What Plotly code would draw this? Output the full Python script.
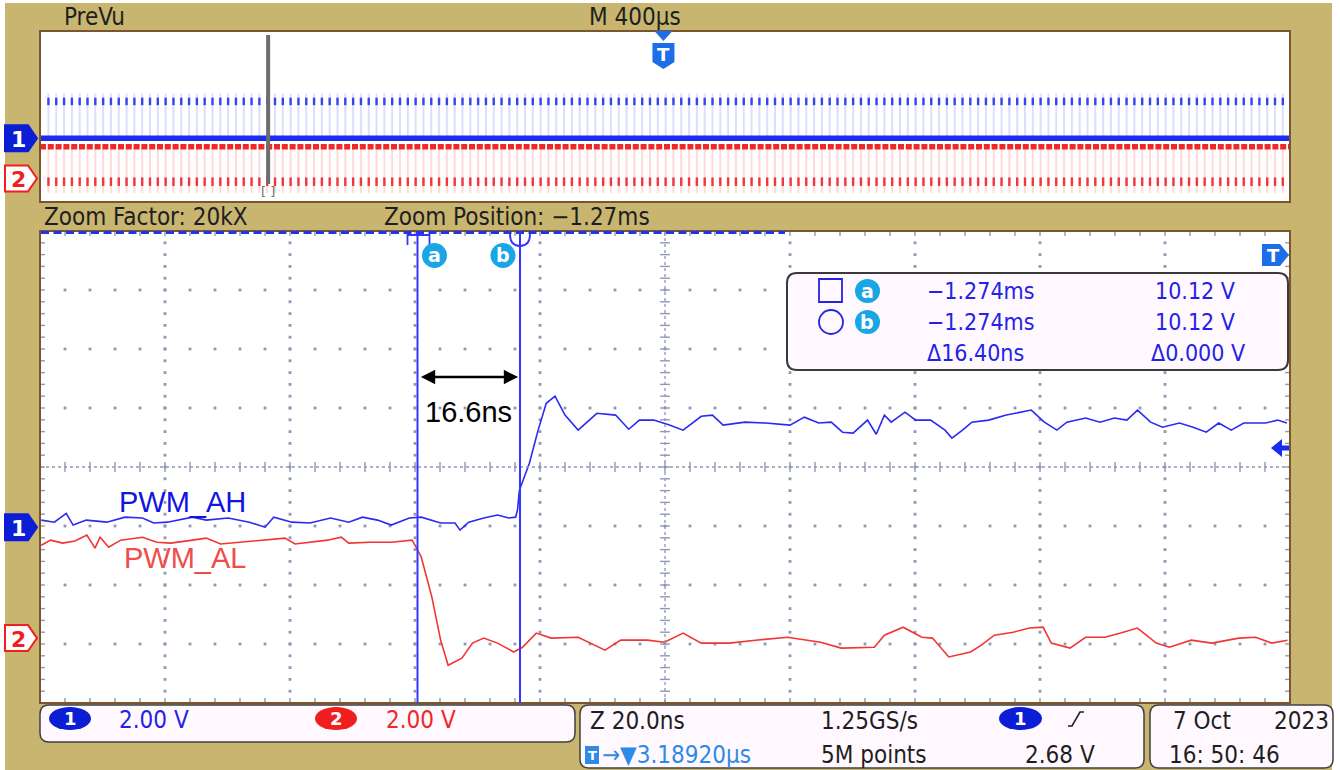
import plotly.graph_objects as go

# ------------------------------------------------------------------
# DATA
# ------------------------------------------------------------------
# Zoomed window: time in ns relative to screen centre, amplitude in volts
ch1_t_ns = [-99.8, -97.7, -95.8, -94.7, -92.6, -89.3, -86.4, -83.6, -81.8, -79.6,
            -75.6, -73.4, -69.9, -66.5, -64.0, -62.6, -59.7, -56.8, -53.5, -50.6,
            -48.4, -46.0, -43.8, -40.9, -39.0, -35.9, -33.6, -32.8, -31.4, -29.0,
            -26.8, -25.0, -23.9,
            -23.6, -23.3, -21.7, -20.3, -19.0, -17.6, -16.0, -13.9, -10.9, -7.9,
            -5.8, -4.1, -1.8, 0.7, 2.9, 5.8, 7.6, 9.3, 12.8, 16.1,
            20.0, 22.3, 24.6, 26.6, 28.4, 30.1, 32.4, 33.8, 35.1, 36.2,
            38.4, 40.1, 42.5, 44.8, 45.9, 47.6, 49.1, 51.8, 54.6, 58.6,
            60.7, 62.7, 64.3, 67.3, 69.6, 71.9, 73.9, 75.6, 77.7, 79.6,
            82.3, 84.5, 86.6, 88.6, 90.6, 92.6, 96.1, 98.0, 99.5]
ch1_v = [0.24, 0.17, 0.47, 0.07, 0.24, 0.17, 0.34, 0.31, 0.14, 0.17,
         0.34, 0.24, 0.31, 0.17, 0.00, 0.34, 0.17, 0.14, 0.31, 0.17,
         0.34, 0.24, 0.07, 0.31, 0.34, 0.14, 0.14, -0.10, 0.17, 0.31,
         0.41, 0.31, 0.34,
         0.58, 1.25, 2.17, 3.29, 4.20, 4.44, 3.80, 3.29, 3.86, 3.80,
         3.32, 3.63, 3.63, 3.46, 3.29, 3.76, 3.80, 3.46, 3.56, 3.53,
         3.46, 3.73, 3.53, 3.56, 3.22, 3.19, 3.63, 3.15, 3.80, 3.56,
         3.90, 3.63, 3.63, 3.29, 3.02, 3.29, 3.56, 3.63, 3.80, 3.97,
         3.56, 3.29, 3.56, 3.70, 3.56, 3.70, 3.63, 3.97, 3.56, 3.39,
         3.53, 3.39, 3.22, 3.53, 3.29, 3.53, 3.53, 3.63, 3.53]

ch2_t_ns = [-99.8, -98.3, -96.4, -94.4, -92.5, -91.2, -90.4, -89.0, -87.1, -83.6,
            -81.3, -79.1, -75.6, -73.4, -71.1, -67.6, -64.8, -60.8, -59.2, -56.8,
            -54.0, -51.8, -50.6, -47.3, -43.8, -40.5, -40.0,
            -39.0, -37.3, -35.9, -34.7, -32.5, -30.8, -29.0, -26.8, -24.2, -22.8,
            -20.6, -18.2, -13.9, -9.6, -7.1, -2.8, -0.1, 2.9, 5.8, 10.3,
            14.5, 19.6, 24.9, 28.2, 33.5, 35.1, 38.1, 41.1, 42.8, 45.4,
            48.9, 50.6, 52.7, 55.7, 58.3, 60.5, 61.8, 64.8, 67.3, 70.4,
            72.9, 75.6, 78.6, 80.7, 84.2, 87.5, 91.8, 94.5, 97.1, 99.6]
ch2_v = [3.15, 3.32, 3.22, 3.29, 3.49, 3.05, 3.42, 3.08, 3.32, 3.42,
         3.25, 3.22, 3.32, 3.39, 3.19, 3.25, 3.32, 3.39, 3.19, 3.25,
         3.32, 3.42, 3.22, 3.25, 3.25, 3.32, 3.15,
         2.75, 1.39, -0.07, -0.92, -0.68, -0.17, 0.00, -0.17, -0.47, -0.31,
         0.17, 0.00, 0.03, -0.41, -0.07, -0.07, -0.14, 0.17, -0.17, -0.17,
         -0.07, 0.03, -0.14, -0.34, -0.31, 0.10, 0.37, 0.03, 0.00, -0.64,
         -0.47, -0.24, 0.10, 0.20, 0.34, 0.37, -0.17, -0.34, 0.03, 0.03,
         0.17, 0.34, -0.17, -0.31, -0.07, -0.17, 0.00, 0.03, -0.17, -0.07]

ch_names = ["PWM_AH", "PWM_AL"]
ch1_offset_div = -1.02
ch2_offset_div = -2.90
volts_per_div = 2.0
ns_per_div = 20.0
us_per_div_prevu = 400.0

cursor_a_ns = -39.6
cursor_b_ns = -23.2
trigger_level_v = 2.68
dead_time_label = "16.6ns"

# PreVu (overview) window, time in microseconds
prevu_first_pulse_us = -1973.0
prevu_pulse_period_us = 25.0
prevu_ch1_base_v = 0.0
prevu_ch1_peak_v = 4.2
prevu_ch1_dense_v = [3.1, 3.8]
prevu_ch2_base_v = 2.97
prevu_ch2_trough_v = -1.35
prevu_ch2_dense_v = [0.1, -0.7]
zoom_position_us = -1270.0
prevu_trigger_us = -5.0

readout_rows = [["−1.274ms", "10.12 V"], ["−1.274ms", "10.12 V"], ["Δ16.40ns", "Δ0.000 V"]]
header_left = "PreVu"
header_mid = "M 400µs"
zoom_factor_txt = "Zoom Factor: 20kX"
zoom_pos_txt = "Zoom Position: −1.27ms"
ch_scale_txt = ["2.00 V", "2.00 V"]
status_mid = [["Z 20.0ns", "1.25GS/s"], ["→▼3.18920µs", "5M points", "2.68 V"]]
status_date = ["7 Oct", "2023", "16: 50: 46"]

# ------------------------------------------------------------------
# STYLE / LAYOUT
# ------------------------------------------------------------------
W, H = 1340, 770
KHAKI = "#C8B56F"
FRAME = "#7A5530"
GRID = "#8E97B6"
BLUE_TR = "#2A2AF2"
RED_TR = "#F23434"
TXT_BLUE = "#2323E6"
CYAN = "#1AA6E6"
TAG_BLUE = "#0B1ED6"
SCOPE = "DejaVu Sans Condensed, Liberation Sans Narrow, Roboto Condensed, DejaVu Sans, sans-serif"
LABEL = "Liberation Sans, Arial, sans-serif"
BOLD = "DejaVu Sans, sans-serif"

ML, MR, MT, MB = 40, 1290, 231, 703      # main graticule (px)
PL, PR, PT, PB = 40, 1290, 31, 202       # PreVu window (px)


def X(p):
    return p / W


def Y(p):
    return 1 - p / H


def main_py(div):
    return MT + (4 - div) * (MB - MT) / 8.0


def prev_py(div):
    return PT + (4 - div) * (PB - PT) / 8.0


def path(pts, close=True):
    s = "M " + " L ".join(f"{X(a):.5f},{Y(b):.5f}" for a, b in pts)
    return s + (" Z" if close else "")


def rrect(x0, y0, x1, y1, r):
    return (f"M {X(x0 + r)},{Y(y0)} L {X(x1 - r)},{Y(y0)} Q {X(x1)},{Y(y0)} {X(x1)},{Y(y0 + r)} "
            f"L {X(x1)},{Y(y1 - r)} Q {X(x1)},{Y(y1)} {X(x1 - r)},{Y(y1)} "
            f"L {X(x0 + r)},{Y(y1)} Q {X(x0)},{Y(y1)} {X(x0)},{Y(y1 - r)} "
            f"L {X(x0)},{Y(y0 + r)} Q {X(x0)},{Y(y0)} {X(x0 + r)},{Y(y0)} Z")


fig = go.Figure()

# ---------------- main graticule (dots / ticks) ----------------
gx, gy = [], []
for i in range(1, 10):
    if i == 5:
        continue
    for j in range(1, 40):
        gx.append(-100 + ns_per_div * i)
        gy.append(-4 + 0.2 * j)
for k in range(1, 8):
    if k == 4:
        continue
    for m in range(1, 50):
        gx.append(-100 + 4 * m)
        gy.append(-4 + k)
fig.add_trace(go.Scatter(x=gx, y=gy, mode="markers", hoverinfo="skip", showlegend=False,
                         marker=dict(symbol="square", size=2.8, color=GRID), xaxis="x", yaxis="y"))
tx_ew, ty_ew = [], []
for j in range(1, 40):
    for xx in (-100, 0, 100):
        tx_ew.append(xx)
        ty_ew.append(-4 + 0.2 * j)
fig.add_trace(go.Scatter(x=tx_ew, y=ty_ew, mode="markers", hoverinfo="skip", showlegend=False,
                         marker=dict(symbol="line-ew", size=7, line=dict(color=GRID, width=1.4)),
                         xaxis="x", yaxis="y"))
tx_ns, ty_ns = [], []
for m in range(1, 50):
    for yy in (-4, 0, 4):
        tx_ns.append(-100 + 4 * m)
        ty_ns.append(yy)
fig.add_trace(go.Scatter(x=tx_ns, y=ty_ns, mode="markers", hoverinfo="skip", showlegend=False,
                         marker=dict(symbol="line-ns", size=7, line=dict(color=GRID, width=1.4)),
                         xaxis="x", yaxis="y"))

# ---------------- main waveforms ----------------
fig.add_trace(go.Scatter(x=ch2_t_ns, y=[v / volts_per_div + ch2_offset_div for v in ch2_v],
                         mode="lines", line=dict(color=RED_TR, width=1.6), name=ch_names[1],
                         showlegend=False, xaxis="x", yaxis="y"))
fig.add_trace(go.Scatter(x=ch1_t_ns, y=[v / volts_per_div + ch1_offset_div for v in ch1_v],
                         mode="lines", line=dict(color=BLUE_TR, width=1.6), name=ch_names[0],
                         showlegend=False, xaxis="x", yaxis="y"))

# ---------------- PreVu traces ----------------
n_pulses = int((2000 - prevu_first_pulse_us) / prevu_pulse_period_us) + 1
pulse_t = [prevu_first_pulse_us + prevu_pulse_period_us * i for i in range(n_pulses)]


def seg(lo, hi, off):
    xs, ys = [], []
    for t in pulse_t:
        xs += [t, t, None]
        ys += [lo / volts_per_div + off, hi / volts_per_div + off, None]
    return xs, ys


sx, sy = seg(prevu_ch1_base_v, prevu_ch1_peak_v, ch1_offset_div)
fig.add_trace(go.Scatter(x=sx, y=sy, mode="lines", line=dict(color="rgba(70,95,255,0.2)", width=2),
                         hoverinfo="skip", showlegend=False, xaxis="x2", yaxis="y2"))
sx, sy = seg(prevu_ch2_trough_v, prevu_ch2_base_v, ch2_offset_div)
fig.add_trace(go.Scatter(x=sx, y=sy, mode="lines", line=dict(color="rgba(255,70,70,0.2)", width=2),
                         hoverinfo="skip", showlegend=False, xaxis="x2", yaxis="y2"))
sx, sy = seg(prevu_ch1_dense_v[0], prevu_ch1_dense_v[1], ch1_offset_div)
fig.add_trace(go.Scatter(x=sx, y=sy, mode="lines", line=dict(color="#3344F0", width=2.4),
                         hoverinfo="skip", showlegend=False, xaxis="x2", yaxis="y2"))
sx, sy = seg(prevu_ch2_dense_v[1], prevu_ch2_dense_v[0], ch2_offset_div)
fig.add_trace(go.Scatter(x=sx, y=sy, mode="lines", line=dict(color="#F03838", width=2.4),
                         hoverinfo="skip", showlegend=False, xaxis="x2", yaxis="y2"))
fig.add_trace(go.Scatter(x=[-2000, 2000], y=[prevu_ch1_base_v / volts_per_div + ch1_offset_div] * 2,
                         mode="lines", line=dict(color="#1A2CF0", width=5.5),
                         hoverinfo="skip", showlegend=False, xaxis="x2", yaxis="y2"))
fig.add_trace(go.Scatter(x=[-2000, 2000], y=[prevu_ch2_base_v / volts_per_div + ch2_offset_div] * 2,
                         mode="lines", line=dict(color="#F02828", width=5.5, dash="6px,1.8px"),
                         hoverinfo="skip", showlegend=False, xaxis="x2", yaxis="y2"))

# ---------------- shapes ----------------
shapes = []
shapes.append(dict(type="rect", xref="paper", yref="paper", x0=0, x1=X(5), y0=0, y1=1,
                   fillcolor="white", line=dict(width=0), layer="below"))
shapes.append(dict(type="rect", xref="paper", yref="paper", x0=X(1332), x1=1, y0=0, y1=1,
                   fillcolor="white", line=dict(width=0), layer="below"))
shapes.append(dict(type="rect", xref="paper", yref="paper", x0=0, x1=1, y0=Y(3), y1=1,
                   fillcolor="white", line=dict(width=0), layer="below"))

shapes.append(dict(type="line", xref="x", yref="y", x0=0, x1=0, y0=-4, y1=4,
                   line=dict(color=GRID, width=1.3, dash="dot")))
shapes.append(dict(type="line", xref="x", yref="y", x0=-100, x1=100, y0=0, y1=0,
                   line=dict(color=GRID, width=1.3, dash="dot")))

for (l, r, t, b) in [(ML, MR, MT, MB), (PL, PR, PT, PB)]:
    shapes.append(dict(type="rect", xref="paper", yref="paper", x0=X(l), x1=X(r), y0=Y(b), y1=Y(t),
                       line=dict(color=FRAME, width=2), fillcolor="rgba(0,0,0,0)"))
shapes.append(dict(type="line", xref="paper", yref="paper", x0=X(41), x1=X(785), y0=Y(232.5), y1=Y(232.5),
                   line=dict(color="#1F35E8", width=3, dash="8px,4.5px")))

shapes.append(dict(type="line", xref="x2", yref="paper", x0=zoom_position_us, x1=zoom_position_us,
                   y0=Y(184), y1=Y(35), line=dict(color="#6E6E6E", width=4)))

for c in (cursor_a_ns, cursor_b_ns):
    shapes.append(dict(type="line", xref="x", yref="y", x0=c, x1=c, y0=-4, y1=4,
                       line=dict(color="#3434FF", width=2)))


def x_main_px(t):
    return ML + (t + 100) / 200.0 * (MR - ML)


ca, cb = x_main_px(cursor_a_ns), x_main_px(cursor_b_ns)
shapes.append(dict(type="path", xref="paper", yref="paper",
                   path=path([(ca - 10, 245), (ca - 10, 235), (ca + 12, 235), (ca + 12, 245)], close=False),
                   line=dict(color="#3434FF", width=1.8)))
shapes.append(dict(type="path", xref="paper", yref="paper",
                   path=f"M {X(cb - 10)},{Y(234)} Q {X(cb - 10)},{Y(246)} {X(cb)},{Y(246)} Q {X(cb + 10)},{Y(246)} {X(cb + 10)},{Y(234)}",
                   line=dict(color="#3434FF", width=1.8)))
for cx in (ca + 17, cb - 17):
    shapes.append(dict(type="circle", xref="paper", yref="paper", x0=X(cx - 12.5), x1=X(cx + 12.5),
                       y0=Y(268), y1=Y(243), fillcolor=CYAN, line=dict(width=0)))

shapes.append(dict(type="path", xref="paper", yref="paper", path=rrect(787, 273, 1288, 370, 10),
                   fillcolor="#FFF9FF", line=dict(color="#3A3A3A", width=2)))
shapes.append(dict(type="rect", xref="paper", yref="paper", x0=X(819), x1=X(842), y0=Y(302), y1=Y(279),
                   line=dict(color=TXT_BLUE, width=1.8), fillcolor="rgba(0,0,0,0)"))
shapes.append(dict(type="circle", xref="paper", yref="paper", x0=X(819), x1=X(843), y0=Y(334), y1=Y(310),
                   line=dict(color=TXT_BLUE, width=1.8), fillcolor="rgba(0,0,0,0)"))
for cy in (291, 322):
    shapes.append(dict(type="circle", xref="paper", yref="paper", x0=X(855), x1=X(880),
                       y0=Y(cy + 12), y1=Y(cy - 12), fillcolor=CYAN, line=dict(width=0)))

arrow_y = 377


def tag(yc, filled, color):
    pts = [(5, yc - 13), (28, yc - 13), (37, yc), (28, yc + 13), (5, yc + 13)]
    return dict(type="path", xref="paper", yref="paper", path=path(pts),
                fillcolor=color if filled else "white", line=dict(color=color, width=2))


shapes.append(tag(prev_py(ch1_offset_div), True, TAG_BLUE))
shapes.append(tag(prev_py(ch2_offset_div), False, "#F02020"))
shapes.append(tag(main_py(ch1_offset_div), True, TAG_BLUE))
shapes.append(tag(main_py(ch2_offset_div), False, "#F02020"))

tp = PL + (prevu_trigger_us + 2000) / 4000.0 * (PR - PL)
shapes.append(dict(type="path", xref="paper", yref="paper",
                   path=path([(tp - 9, 31), (tp + 9, 31), (tp, 41)]), fillcolor="#1C6FE6", line=dict(width=0)))
shapes.append(dict(type="path", xref="paper", yref="paper",
                   path=path([(tp - 11, 43), (tp + 11, 43), (tp + 11, 62), (tp, 69), (tp - 11, 62)]),
                   fillcolor="#1C6FE6", line=dict(width=0)))
shapes.append(dict(type="path", xref="paper", yref="paper",
                   path=path([(1262, 244), (1280, 244), (1289, 255), (1280, 266), (1262, 266)]),
                   fillcolor="#1C6FE6", line=dict(width=0)))
ly = main_py(ch1_offset_div + trigger_level_v / volts_per_div)
shapes.append(dict(type="path", xref="paper", yref="paper",
                   path=path([(1271, ly), (1282, ly - 9), (1282, ly - 2.5), (1289, ly - 2.5), (1289, ly + 2.5),
                              (1282, ly + 2.5), (1282, ly + 9)]),
                   fillcolor="#1A2CF0", line=dict(width=0)))

shapes.append(dict(type="path", xref="paper", yref="paper", path=rrect(40, 705, 575, 742, 9),
                   fillcolor="#FFF9FF", line=dict(color="#404040", width=1.5)))
shapes.append(dict(type="path", xref="paper", yref="paper", path=rrect(580, 705, 1144, 768, 9),
                   fillcolor="#FFF9FF", line=dict(color="#404040", width=1.5)))
shapes.append(dict(type="path", xref="paper", yref="paper", path=rrect(1150, 705, 1333, 768, 9),
                   fillcolor="#FFF9FF", line=dict(color="#404040", width=1.5)))
for (x0, x1, col) in [(49, 91, TAG_BLUE), (315, 357, "#F01E1E"), (999, 1042, TAG_BLUE)]:
    shapes.append(dict(type="circle", xref="paper", yref="paper", x0=X(x0), x1=X(x1), y0=Y(730), y1=Y(707),
                       fillcolor=col, line=dict(width=0)))
shapes.append(dict(type="rect", xref="paper", yref="paper", x0=X(585), x1=X(599), y0=Y(764), y1=Y(746),
                   fillcolor="#2E8AE6", line=dict(width=0)))
shapes.append(dict(type="path", xref="paper", yref="paper",
                   path=path([(1068, 726), (1072, 726), (1080, 712), (1084, 712)], close=False),
                   line=dict(color="#202020", width=1.6)))

# ---------------- annotations ----------------
ann = []


def txt(x, y, s, color="#1E1E1E", size=24, anchor="left", family=SCOPE, bold=False):
    f = dict(family=family, size=size, color=color)
    if bold:
        f["weight"] = "bold"
    ann.append(dict(x=X(x), y=Y(y), xref="paper", yref="paper", text=s, showarrow=False,
                    xanchor=anchor, yanchor="middle", font=f))


txt(62, 17, header_left)
txt(587, 17, header_mid)
txt(42, 217, zoom_factor_txt)
txt(382, 217, zoom_pos_txt)

for i, (a, b) in enumerate(readout_rows):
    yy = [291, 322, 353][i]
    txt(925, yy, a, TXT_BLUE, 23)
    txt(1237 if i < 2 else 1247, yy, b, TXT_BLUE, 23, anchor="right")
txt(867.5, 291, "a", "white", 19, anchor="center", family=BOLD, bold=True)
txt(867.5, 322, "b", "white", 19, anchor="center", family=BOLD, bold=True)
txt(ca + 17, 255, "a", "white", 19, anchor="center", family=BOLD, bold=True)
txt(cb - 17, 255, "b", "white", 19, anchor="center", family=BOLD, bold=True)

for yc, s, col in [(prev_py(ch1_offset_div), "1", "white"), (prev_py(ch2_offset_div), "2", "#F02020"),
                   (main_py(ch1_offset_div), "1", "white"), (main_py(ch2_offset_div), "2", "#F02020")]:
    txt(18, yc + 1, s, col, 22, anchor="center", family=BOLD, bold=True)

txt(tp, 55, "T", "white", 18, anchor="center", family=BOLD, bold=True)
txt(1273, 255, "T", "white", 18, anchor="center", family=BOLD, bold=True)
txt(592, 755, "T", "white", 13, anchor="center", family=BOLD, bold=True)
txt(268, 191, "[ ]", "#6E6E6E", 13, anchor="center", family=BOLD)

ann.append(dict(x=cursor_b_ns - 0.3, y=(MT + (MB - MT) / 2 - arrow_y) / ((MB - MT) / 8.0),
                ax=cursor_a_ns + 0.3, ay=(MT + (MB - MT) / 2 - arrow_y) / ((MB - MT) / 8.0),
                xref="x", yref="y", axref="x", ayref="y", text="", showarrow=True,
                arrowhead=2, arrowside="end+start", arrowsize=1.1, arrowwidth=2.6, arrowcolor="black"))
txt(468, 412, dead_time_label, "black", 29, anchor="center", family=LABEL)
txt(117, 502, ch_names[0], "#1414E0", 29, family=LABEL)
txt(122, 558, ch_names[1], "#F04C4C", 29, family=LABEL)

txt(70, 718.5, "1", "white", 18, anchor="center", family=BOLD, bold=True)
txt(336, 718.5, "2", "white", 18, anchor="center", family=BOLD, bold=True)
txt(1020.5, 718.5, "1", "white", 18, anchor="center", family=BOLD, bold=True)
txt(117, 720, ch_scale_txt[0], TXT_BLUE)
txt(384, 720, ch_scale_txt[1], "#F02828")
txt(588, 721, status_mid[0][0])
txt(819, 721, status_mid[0][1])
txt(600, 755, status_mid[1][0], "#2E8AE6")
txt(819, 755, status_mid[1][1])
txt(1023, 755, status_mid[1][2])
txt(1171, 721, status_date[0])
txt(1331, 721, status_date[1], anchor="right")
txt(1167, 755, status_date[2])

fig.update_layout(
    width=W, height=H, margin=dict(l=0, r=0, t=0, b=0, pad=0),
    paper_bgcolor=KHAKI, plot_bgcolor="white", showlegend=False,
    xaxis=dict(domain=[X(ML), X(MR)], range=[-100, 100], visible=False, fixedrange=True),
    yaxis=dict(domain=[Y(MB), Y(MT)], range=[-4, 4], visible=False, fixedrange=True),
    xaxis2=dict(domain=[X(PL), X(PR)], range=[-2000, 2000], visible=False, fixedrange=True, anchor="y2"),
    yaxis2=dict(domain=[Y(PB), Y(PT)], range=[-4, 4], visible=False, fixedrange=True, anchor="x2"),
    shapes=shapes, annotations=ann,
)

fig.write_html("out.html", config=dict(displayModeBar=False))
